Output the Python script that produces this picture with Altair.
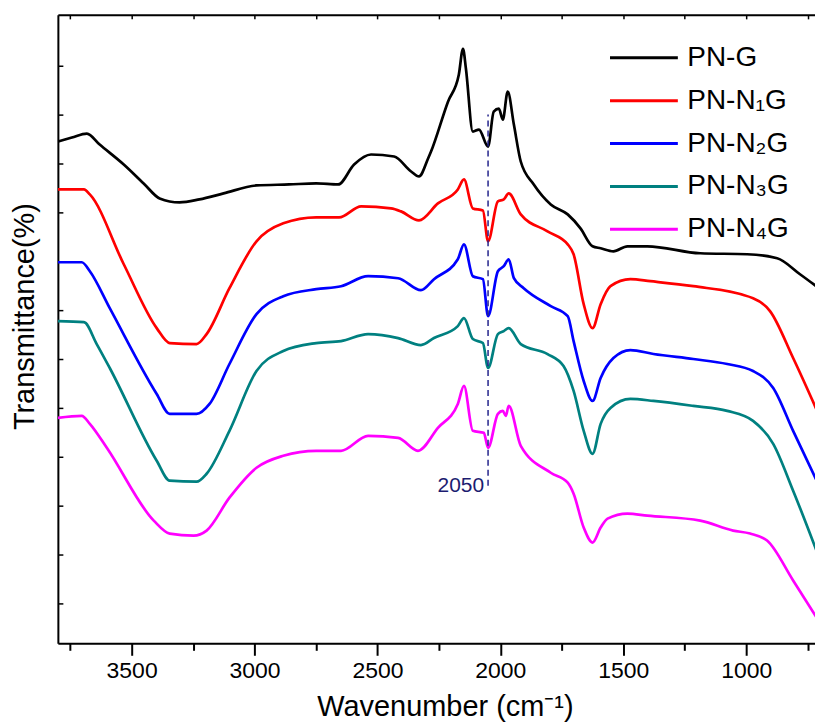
import altair as alt
import pandas as pd

series_names = ["PN-G", "PN-N₁G", "PN-N₂G", "PN-N₃G", "PN-N₄G"]
series_colors = ["#000000", "#FF0000", "#0000FF", "#008080", "#FF00FF"]

pn_g_wn = [3800, 3743, 3682, 3630, 3532, 3451, 3386, 3305, 3224, 3126, 2992, 2859, 2749, 2660,
           2595, 2526, 2432, 2363, 2331, 2294, 2282, 2213, 2169, 2152, 2140, 2112, 2087, 2050,
           2027, 2006, 1990, 1970, 1945, 1917, 1864, 1795, 1726, 1674, 1625, 1592, 1540, 1483,
           1402, 1187, 996, 874, 781, 688]
pn_g_t = [503, 507, 511, 500, 480, 461, 446, 442, 445, 451, 459, 460, 461, 460,
          480, 490, 488, 473, 468, 486, 493, 543, 570, 596, 576, 513, 515, 498,
          533, 536, 525, 553, 520, 483, 460, 440, 430, 416, 398, 396, 393, 398,
          398, 391, 390, 386, 370, 353]

pn_n1g_wn = [3800, 3694, 3670, 3532, 3398, 3345, 3236, 3195, 3102, 2992, 2883, 2749, 2656,
             2566, 2445, 2404, 2331, 2254, 2173, 2148, 2112, 2071, 2050, 2010, 1986, 1966,
             1917, 1808, 1726, 1702, 1661, 1625, 1592, 1552, 1471, 1390, 1215, 972, 903, 809, 688]
pn_n1g_t = [455, 455, 450, 380, 316, 301, 300, 310, 356, 403, 421, 427, 427,
            438, 436, 433, 424, 441, 455, 465, 436, 434, 403, 443, 445, 451,
            430, 413, 400, 390, 340, 316, 340, 358, 365, 363, 358, 346, 333, 286, 220]

pn_n2g_wn = [3800, 3703, 3670, 3589, 3398, 3345, 3236, 3183, 3102, 2992, 2883, 2749, 2648,
             2538, 2416, 2323, 2270, 2173, 2148, 2112, 2071, 2050, 2010, 1986, 1966, 1945,
             1905, 1795, 1726, 1702, 1661, 1625, 1592, 1540, 1471, 1377, 1215, 1077, 972, 890,
             809, 688]
pn_n2g_t = [382, 382, 373, 336, 250, 230, 230, 240, 280, 330, 348, 355, 358,
            368, 366, 354, 365, 385, 400, 368, 365, 328, 373, 378, 385, 366,
            356, 338, 328, 303, 263, 243, 266, 286, 294, 290, 285, 280, 273, 256,
            213, 150]

pn_n3g_wn = [3800, 3694, 3642, 3589, 3398, 3345, 3236, 3195, 3102, 2992, 2883, 2749, 2648,
             2538, 2416, 2323, 2270, 2173, 2148, 2112, 2071, 2050, 2010, 1986, 1966, 1917,
             1808, 1743, 1702, 1661, 1625, 1592, 1552, 1471, 1377, 1215, 1077, 972, 890, 809, 688]
pn_n3g_t = [323, 322, 300, 276, 183, 163, 162, 170, 213, 273, 293, 301, 303,
            310, 306, 299, 306, 318, 326, 305, 301, 276, 310, 313, 316, 300,
            290, 278, 253, 213, 190, 220, 236, 245, 243, 238, 233, 223, 200, 153, 76]

pn_n4g_wn = [3800, 3703, 3670, 3601, 3410, 3345, 3248, 3195, 3102, 2992, 2883, 2749, 2648,
             2538, 2416, 2335, 2254, 2173, 2148, 2112, 2067, 2050, 2010, 1990, 1978, 1966,
             1917, 1795, 1726, 1702, 1661, 1625, 1592, 1564, 1483, 1402, 1187, 1053, 984, 915,
             809, 688]
pn_n4g_t = [226, 228, 220, 196, 123, 110, 108, 113, 146, 176, 188, 193, 193,
            208, 206, 193, 216, 240, 258, 213, 211, 196, 230, 233, 228, 238,
            198, 171, 161, 150, 116, 101, 116, 125, 130, 128, 123, 113, 110, 103,
            63, 16]

x_ticks = [3750, 3500, 3250, 3000, 2750, 2500, 2250, 2000, 1750, 1500, 1250, 1000, 750]
y_ticks = [40, 89, 138, 187, 236, 285, 334, 383, 432, 481, 530, 579]

marker_wn = [2050]
marker_low = [158]
marker_high = [530]
marker_label = ["2050"]

rows = []
for name, wn, tv in zip(series_names,
                        [pn_g_wn, pn_n1g_wn, pn_n2g_wn, pn_n3g_wn, pn_n4g_wn],
                        [pn_g_t, pn_n1g_t, pn_n2g_t, pn_n3g_t, pn_n4g_t]):
    for w, t in zip(wn, tv):
        rows.append({"wn": w, "t": t, "series": name})
df = pd.DataFrame(rows)
mk = pd.DataFrame({"wn": marker_wn, "lo": marker_low, "hi": marker_high, "label": marker_label})

FONT = "Liberation Sans"
x_scale = alt.Scale(domain=[720, 3800], reverse=True, nice=False, zero=False)
y_scale = alt.Scale(domain=[0, 630], nice=False, zero=False)

x_axis_bottom = alt.Axis(
    values=x_ticks, format="d",
    labelExpr="datum.value % 500 === 0 ? datum.label : ''",
    tickSize={"condition": {"test": "datum.value % 500 === 0", "value": 12}, "value": 7},
    tickWidth=2, tickColor="black", domainWidth=2, domainColor="black",
    labelFontSize=23, labelColor="black", labelPadding=4, labelFont=FONT,
    labelOverlap=False, grid=False,
    title="Wavenumber (cm⁻¹)", titleFontSize=29, titleFontWeight="normal",
    titleColor="black", titleFont=FONT, titleX=388, titleY=63,
    titleAlign="center", titleBaseline="middle",
)
x_axis_top = alt.Axis(
    orient="top", values=x_ticks, labels=False, title=None,
    tickSize={"expr": "-4"}, tickWidth=1.5, tickColor="black",
    domain=True, domainWidth=2, domainColor="black", grid=False,
)
y_axis_main = alt.Axis(
    orient="left", labels=False, ticks=False, tickSize=0,
    domain=True, domainWidth=2, domainColor="black", grid=False,
    title="Transmittance(%)", titleFontSize=29, titleFontWeight="normal",
    titleColor="black", titleFont=FONT, titleX=-33, titleY=302,
    titleAlign="center", titleBaseline="middle", titleAngle=270,
)
y_axis_ticks = alt.Axis(
    orient="left", values=y_ticks, labels=False, title=None, domain=False,
    tickSize={"expr": "-5"}, tickWidth=1.5, tickColor="black", grid=False,
)

lines = alt.Chart(df).mark_line(strokeWidth=2.7, clip=True, interpolate="monotone").encode(
    x=alt.X("wn:Q", scale=x_scale, axis=x_axis_bottom),
    y=alt.Y("t:Q", scale=y_scale, axis=y_axis_main),
    color=alt.Color(
        "series:N",
        scale=alt.Scale(domain=series_names, range=series_colors),
        sort=series_names,
        legend=alt.Legend(
            title=None, orient="none", legendX=552, legendY=28,
            symbolType="stroke", symbolSize=4624, symbolStrokeWidth=3,
            clipHeight=30, rowPadding=13, padding=0, labelOffset=8,
            labelFontSize=28, labelFont=FONT, labelColor="black",
            labelLimit=300,
        ),
    ),
)

rule = alt.Chart(mk).mark_rule(strokeDash=[6, 4], strokeWidth=1.5, color="#24248c").encode(
    x=alt.X("wn:Q", scale=x_scale, axis=x_axis_top),
    y=alt.Y("lo:Q", scale=y_scale, axis=y_axis_ticks),
    y2="hi:Q",
)

label = alt.Chart(mk).mark_text(align="right", baseline="middle", dx=-4, fontSize=21,
                                font=FONT, color="#1c1c70").encode(
    x=alt.X("wn:Q", scale=x_scale, axis=None),
    y=alt.Y("lo:Q", scale=y_scale, axis=None),
    text="label:N",
)

chart = alt.layer(lines, rule, label).resolve_axis(x="independent", y="independent").properties(
    width=759, height=630,
    padding={"left": 3, "top": 5, "right": 0, "bottom": 0},
).configure_view(stroke=None).configure(font=FONT)

chart.save("out.html", embed_options={"renderer": "svg", "actions": False})
